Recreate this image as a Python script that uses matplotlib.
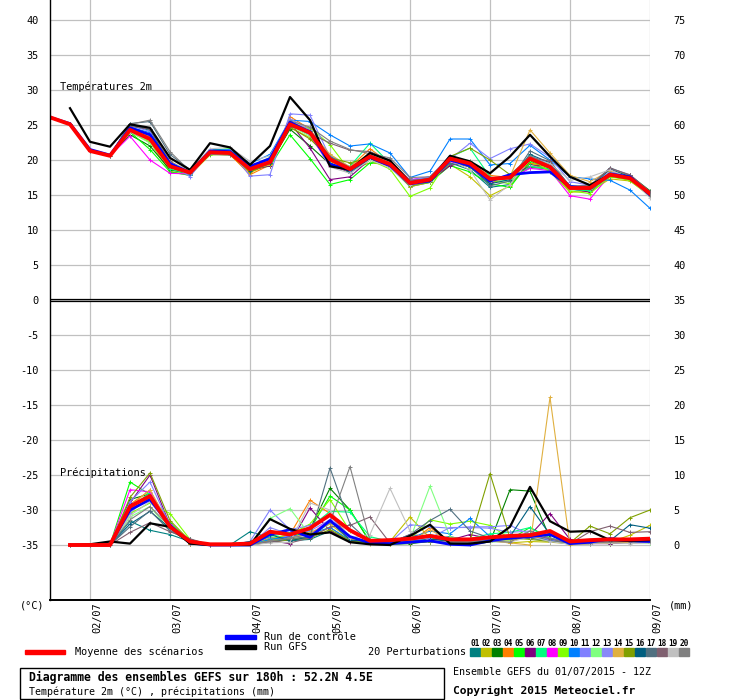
import numpy as np
import matplotlib
matplotlib.use("Agg")
import matplotlib.pyplot as plt
from matplotlib.patches import Rectangle

nan = np.nan
plt.rcParams['font.family'] = ['DejaVu Sans Mono']

# 6-hourly steps from 01/07 12Z to 09/07 00Z (31 steps)
steps = np.arange(31)
day_steps = [2, 6, 10, 14, 18, 22, 26, 30]
day_labels = ['02/07', '03/07', '04/07', '05/07', '06/07', '07/07', '08/07', '09/07']

member_colors = ['#008080', '#c0c000', '#008000', '#ff8000', '#00ff00', '#800080', '#00ff80',
                 '#ff00ff', '#80ff00', '#0080ff', '#8080ff', '#80ff80', '#8888f8', '#e0b040',
                 '#80a000', '#005f80', '#507080', '#806070', '#c0c0c0', '#808080']
member_names = ['%02d' % (k + 1) for k in range(20)]

# temperature 2m (degC)
t_mean = [26.1, 25.1, 21.3, 20.6, 24.3, 23.0, 19.1, 18.2, 21.1, 21.0, 18.7, 19.7, 25.1, 23.9, 20.1, 18.7,
          20.5, 19.4, 16.7, 17.2, 20.2, 19.5, 17.3, 17.5, 20.2, 19.0, 16.0, 16.0, 17.9, 17.4, 15.2]
t_gfs = [nan, 27.4, 22.6, 21.9, 25.1, 24.6, 20.3, 18.6, 22.4, 21.8, 19.3, 22.0, 29.0, 25.7, 19.1, 18.6,
         21.0, 19.9, 16.8, 17.1, 20.6, 19.8, 18.1, 20.5, 23.6, 20.5, 17.6, 16.4, 17.9, 17.5, 15.1]
t_ctrl = [26.1, 25.2, 21.5, 20.7, 24.6, 23.6, 19.5, 18.2, 21.3, 21.2, 19.1, 20.2, 25.4, 24.0, 19.4, 18.6,
          20.4, 19.2, 16.6, 17.0, 20.0, 19.2, 17.0, 17.9, 18.2, 18.3, 16.2, 15.9, 18.0, 17.6, 15.0]
t01 = [26.1, 25.1, 21.3, 20.6, 25.1, 24.2, 19.0, 18.0, 21.0, 21.1, 18.8, 19.4, 25.0, 23.6, 19.6, 18.2, 20.1, 19.0, 16.2, 16.8, 19.6, 18.6, 16.1, 16.5, 19.5, 18.6, 15.8, 15.7, 17.6, 17.3, 15.1]
t02 = [26.1, 25.1, 21.3, 20.6, 24.0, 22.5, 18.4, 17.8, 20.8, 20.7, 18.2, 19.4, 24.6, 23.2, 19.8, 18.6, 19.6, 19.3, 16.2, 16.8, 19.4, 17.6, 14.9, 16.3, 19.6, 18.4, 15.4, 15.5, 17.3, 17.0, 14.9]
t03 = [26.1, 25.1, 21.3, 20.6, 23.6, 22.0, 18.6, 18.0, 21.1, 21.2, 18.9, 19.6, 24.4, 22.0, 19.4, 18.2, 20.4, 19.6, 16.9, 17.2, 20.0, 19.2, 17.0, 17.4, 18.9, 18.8, 16.1, 16.2, 18.2, 17.8, 15.6]
t04 = [26.1, 25.1, 21.3, 20.6, 24.4, 23.3, 19.0, 17.9, 20.9, 20.8, 17.9, 19.3, 26.2, 24.4, 20.5, 19.0, 21.6, 19.5, 16.6, 17.6, 19.8, 19.5, 17.8, 17.5, 19.6, 18.9, 15.9, 15.8, 17.8, 17.7, 15.3]
t05 = [26.1, 25.1, 21.3, 20.6, 24.0, 21.5, 18.3, 17.8, 21.4, 21.6, 18.8, 19.1, 23.6, 20.2, 16.5, 17.2, 19.6, 19.6, 16.5, 16.8, 19.2, 18.3, 16.6, 16.1, 19.8, 18.9, 16.3, 16.1, 17.7, 17.3, 15.1]
t06 = [26.1, 25.1, 21.3, 20.6, 24.2, 22.8, 18.9, 18.2, 21.1, 21.1, 18.5, 19.2, 25.3, 21.7, 17.2, 17.6, 20.1, 19.0, 16.8, 17.0, 19.2, 19.8, 16.6, 17.8, 19.1, 19.3, 15.9, 15.4, 18.2, 17.8, 15.0]
t07 = [26.1, 25.1, 21.3, 20.6, 24.1, 23.5, 18.7, 18.0, 21.2, 21.0, 18.6, 19.8, 25.5, 23.9, 19.9, 19.1, 22.4, 19.5, 16.8, 17.6, 20.4, 21.7, 17.6, 16.9, 19.1, 18.7, 15.8, 15.6, 17.7, 17.2, 15.0]
t08 = [26.1, 25.1, 21.3, 20.6, 23.4, 20.0, 18.1, 18.0, 21.0, 21.0, 18.6, 19.7, 25.5, 23.6, 19.1, 18.4, 20.2, 19.5, 17.2, 17.6, 19.8, 19.0, 17.1, 17.4, 18.8, 18.5, 14.9, 14.4, 17.9, 17.6, 15.2]
t09 = [26.1, 25.1, 21.3, 20.6, 24.5, 22.6, 19.4, 18.0, 20.7, 20.9, 18.4, 19.6, 24.8, 24.6, 22.2, 18.4, 20.0, 18.7, 14.8, 16.0, 20.4, 18.9, 17.1, 16.6, 20.2, 18.3, 15.6, 15.2, 17.6, 17.1, 14.8]
t10 = [26.1, 25.1, 21.3, 20.6, 24.7, 23.9, 19.7, 17.9, 21.4, 21.5, 19.5, 20.8, 25.7, 25.5, 23.6, 22.0, 22.3, 21.0, 17.5, 18.4, 23.0, 23.0, 19.3, 19.5, 22.1, 20.0, 17.6, 17.3, 17.1, 15.7, 13.1]
t11 = [26.1, 25.1, 21.3, 20.6, 24.9, 24.1, 19.6, 17.6, 21.3, 21.4, 17.7, 17.9, 26.6, 26.4, 20.4, 18.3, 20.8, 19.7, 17.1, 17.6, 20.1, 22.4, 20.2, 21.6, 22.3, 20.4, 16.9, 16.4, 18.3, 17.8, 15.1]
t12 = [26.1, 25.1, 21.3, 20.6, 24.1, 22.4, 19.2, 18.5, 21.3, 21.3, 19.0, 20.4, 24.9, 23.4, 20.8, 18.9, 20.6, 19.3, 16.4, 16.9, 20.2, 19.9, 17.2, 16.9, 20.8, 18.9, 15.9, 15.8, 17.9, 17.5, 15.2]
t13 = [26.1, 25.1, 21.3, 20.6, 24.6, 23.3, 19.3, 18.2, 21.0, 21.1, 19.2, 20.0, 25.9, 24.3, 20.6, 19.0, 20.8, 19.8, 17.0, 17.6, 20.6, 19.5, 17.4, 17.6, 20.6, 19.4, 16.3, 16.4, 18.2, 17.6, 15.2]
t14 = [26.1, 25.1, 21.3, 20.6, 24.5, 23.4, 19.8, 18.3, 21.2, 20.9, 18.6, 19.3, 25.6, 24.2, 20.8, 19.0, 21.0, 19.6, 16.8, 17.3, 20.1, 19.0, 17.2, 17.6, 24.3, 21.0, 17.8, 16.9, 18.5, 17.8, 15.2]
t15 = [26.1, 25.1, 21.3, 20.6, 24.0, 22.9, 19.5, 18.4, 21.0, 20.9, 18.3, 19.5, 24.7, 23.0, 20.3, 19.6, 20.3, 19.6, 16.3, 16.9, 20.5, 21.7, 20.0, 17.9, 20.4, 19.2, 16.1, 16.0, 17.8, 17.3, 15.0]
t16 = [26.1, 25.1, 21.3, 20.6, 25.0, 24.4, 19.4, 18.1, 20.9, 21.0, 18.5, 19.6, 24.8, 24.2, 20.2, 18.2, 20.2, 19.2, 16.4, 17.1, 19.9, 19.0, 16.6, 17.2, 20.8, 19.6, 16.3, 16.1, 18.7, 17.6, 15.3]
t17 = [26.1, 25.1, 21.3, 20.6, 25.2, 25.5, 20.8, 18.6, 21.2, 21.1, 18.9, 19.9, 25.4, 24.0, 20.5, 18.9, 20.7, 19.5, 17.0, 17.4, 19.5, 19.1, 16.3, 17.0, 21.3, 19.9, 16.1, 16.2, 18.9, 17.8, 15.4]
t18 = [26.1, 25.1, 21.3, 20.6, 24.8, 24.4, 19.8, 18.2, 21.0, 21.1, 18.9, 19.8, 24.9, 23.8, 22.4, 21.4, 21.2, 20.0, 17.1, 17.3, 20.3, 19.3, 17.2, 17.7, 20.4, 19.8, 16.2, 16.4, 18.8, 17.9, 15.5]
t19 = [26.1, 25.1, 21.3, 20.6, 24.0, 22.8, 19.6, 18.6, 21.6, 21.8, 19.8, 20.6, 25.5, 23.9, 19.0, 18.1, 20.0, 18.9, 16.4, 17.0, 20.0, 18.6, 14.3, 16.5, 20.2, 19.5, 17.1, 17.6, 18.6, 17.4, 14.6]
t20 = [26.1, 25.1, 21.3, 20.6, 25.1, 25.7, 21.2, 18.4, 20.8, 20.7, 19.1, 20.3, 25.6, 24.7, 22.7, 21.5, 20.9, 20.3, 17.5, 17.6, 20.4, 19.7, 17.4, 17.8, 20.6, 19.2, 16.2, 16.3, 18.2, 17.5, 15.0]
t_members = [t01, t02, t03, t04, t05, t06, t07, t08, t09, t10, t11, t12, t13, t14, t15, t16, t17, t18, t19, t20]

# precipitation (mm per 6h)
p_mean = [nan, 0, 0, 0, 5.5, 7.0, 2.6, 0.5, 0.1, 0.1, 0.2, 1.9, 1.5, 2.4, 4.3, 2.1,
          0.6, 0.7, 0.9, 1.3, 0.8, 0.8, 1.1, 1.3, 1.4, 2.0, 0.5, 0.7, 0.8, 0.8, 0.9]
p_gfs = [nan, 0, 0.1, 0.5, 0.2, 3.1, 2.6, 0.2, 0, 0, 0, 3.7, 2.3, 1.5, 1.8, 0.4,
         0.1, 0.0, 1.3, 2.9, 0.2, 0.2, 0.5, 2.6, 8.3, 3.4, 1.9, 2.0, 0.7, 0.6, 0.7]
p_ctrl = [nan, 0, 0, 0, 5.0, 6.5, 2.8, 0.3, 0, 0, 0, 1.5, 2.2, 1.1, 3.5, 1.2,
          0.3, 0.2, 0.4, 0.6, 0.1, 0, 0.6, 1.0, 1.2, 1.5, 0.2, 0.4, 0.9, 0.6, 0.5]
p01 = [nan, 0, 0, 0, 3.4, 2.1, 1.5, 0.5, 0, 0, 1.9, 1.0, 0.6, 0.8, 2.0, 0.8, 0.3, 0.2, 0.5, 0.8, 1.2, 0.6, 1.0, 0.8, 1.0, 0.9, 0.1, 0.3, 0.4, 0.6, 0.7]
p02 = [nan, 0, 0, 0, 4.8, 6.8, 3.0, 0.3, 0, 0, 0, 0.4, 0.8, 1.2, 2.5, 0.6, 0.2, 0.5, 4.0, 1.0, 0.5, 0.4, 0.6, 0.3, 0.5, 0.4, 0.2, 0.6, 0.4, 1.4, 2.8]
p03 = [nan, 0, 0, 0, 6.5, 7.3, 2.4, 0.2, 0, 0, 0, 0.5, 1.2, 2.3, 8.1, 5.0, 0.4, 0.1, 0.2, 0.5, 0.3, 0.2, 0.4, 7.9, 7.7, 1.0, 0.1, 0.2, 0.3, 0.4, 0.5]
p04 = [nan, 0, 0, 0, 5.8, 7.8, 2.5, 0.2, 0, 0, 0, 0.8, 1.5, 6.4, 4.5, 1.0, 0.4, 0.2, 0.3, 2.5, 0.6, 0.4, 0.5, 0.6, 1.2, 0.9, 0.1, 0.2, 0.3, 0.5, 0.6]
p05 = [nan, 0, 0, 0, 9.0, 7.2, 3.2, 0.4, 0, 0, 0, 0.7, 1.0, 2.2, 7.0, 5.0, 0.5, 0.2, 0.6, 1.0, 0.4, 0.5, 0.7, 0.8, 2.5, 1.0, 0.2, 0.3, 0.2, 0.4, 0.3]
p06 = [nan, 0, 0, 0, 6.0, 10.0, 2.8, 0.3, 0, 0, 0, 0.6, 0.2, 5.3, 2.0, 0.5, 0.6, 0.3, 1.5, 0.8, 0.7, 1.5, 0.9, 1.2, 1.4, 4.5, 0.8, 0.2, 0.2, 0.3, 0.4]
p07 = [nan, 0, 0, 0, 5.2, 7.5, 2.2, 0.5, 0, 0, 0, 1.2, 1.8, 2.5, 4.8, 4.7, 1.2, 0.5, 0.6, 1.5, 0.8, 0.9, 1.6, 1.8, 2.5, 0.8, 0.2, 0.4, 0.5, 0.4, 0.5]
p08 = [nan, 0, 0, 0, 7.9, 7.6, 3.0, 0.4, 0, 0, 0, 1.0, 1.2, 1.5, 3.6, 1.0, 0.3, 0.2, 0.5, 1.2, 0.6, 0.5, 0.8, 1.2, 1.6, 1.5, 0.2, 0.3, 0.3, 0.5, 0.4]
p09 = [nan, 0, 0, 0, 4.5, 6.0, 4.5, 0.8, 0, 0, 0, 0.9, 1.5, 3.0, 6.5, 2.0, 0.5, 0.2, 0.8, 3.6, 3.0, 3.4, 2.8, 0.9, 1.0, 0.6, 0.2, 0.5, 0.3, 0.6, 0.5]
p10 = [nan, 0, 0, 0, 5.0, 6.6, 2.6, 0.3, 0, 0, 0, 0.8, 1.2, 1.6, 2.5, 0.7, 0.3, 0.3, 1.0, 2.0, 1.6, 3.8, 1.2, 0.9, 1.0, 0.7, 0.1, 0.2, 0.9, 0.6, 0.5]
p11 = [nan, 0, 0, 0, 6.2, 9.0, 2.8, 0.5, 0, 0, 0.5, 5.0, 2.2, 2.8, 4.2, 0.9, 0.5, 0.4, 2.9, 2.6, 2.4, 2.6, 2.6, 2.8, 1.5, 0.8, 0.2, 0.3, 0.4, 0.5, 0.6]
p12 = [nan, 0, 0, 0, 4.0, 5.5, 2.1, 0.4, 0, 0, 0, 3.8, 5.2, 1.4, 3.0, 0.8, 0.6, 0.5, 0.8, 8.4, 1.2, 0.5, 0.4, 0.6, 2.0, 1.0, 0.2, 0.3, 0.3, 0.4, 0.5]
p13 = [nan, 0, 0, 0, 4.6, 7.0, 2.3, 0.3, 0, 0, 0, 2.5, 1.5, 2.0, 3.6, 0.9, 0.4, 0.3, 0.6, 1.0, 2.5, 2.5, 2.4, 1.8, 2.0, 0.6, 0.2, 0.3, 0.4, 0.5, 0.7]
p14 = [nan, 0, 0, 0, 5.5, 7.9, 2.7, 0.4, 0, 0, 0, 0.6, 1.0, 1.8, 3.0, 0.8, 0.5, 0.2, 0.4, 2.2, 0.5, 0.4, 0.6, 0.3, 0.0, 21.1, 0.0, 0.2, 0.3, 0.4, 0.6]
p15 = [nan, 0, 0, 0, 6.8, 10.3, 3.5, 0.6, 0, 0, 0, 0.5, 0.7, 1.0, 2.2, 0.6, 0.4, 0.5, 0.3, 0.5, 0.2, 0.6, 10.2, 1.0, 0.8, 0.5, 0.3, 2.7, 1.6, 3.9, 5.0]
p16 = [nan, 0, 0, 0, 3.0, 4.8, 2.4, 0.8, 0, 0, 0.5, 1.5, 0.6, 1.2, 3.4, 0.7, 0.5, 0.3, 0.5, 0.8, 0.6, 0.4, 0.7, 1.2, 5.5, 1.5, 0.3, 0.5, 0.6, 2.9, 2.4]
p17 = [nan, 0, 0, 0, 2.6, 4.9, 2.0, 0.6, 0, 0, 0, 0.4, 0.9, 1.2, 11.0, 3.0, 0.4, 0.3, 1.5, 3.5, 5.1, 2.0, 1.0, 0.8, 1.0, 0.6, 0.1, 0.3, 1.0, 0.8, 0.6]
p18 = [nan, 0, 0, 0, 1.8, 3.2, 1.9, 0.9, 0, 0, 0, 0.5, 0.3, 1.0, 2.6, 2.8, 4.0, 0.3, 0.5, 0.6, 0.4, 0.5, 0.8, 1.0, 1.5, 0.9, 0.2, 1.9, 2.7, 1.8, 1.9]
p19 = [nan, 0, 0, 0, 4.2, 6.2, 2.6, 0.4, 0, 0, 0, 0.3, 0.4, 6.0, 5.0, 1.0, 1.5, 8.1, 2.0, 0.6, 0.4, 0.3, 0.5, 0.4, 1.2, 0.5, 0.1, 0.2, 0.3, 0.2, 0.3]
p20 = [nan, 0, 0, 0, 3.6, 5.5, 2.6, 0.5, 0, 0, 0, 0.6, 1.0, 1.5, 3.2, 11.2, 0.6, 0.4, 0.5, 0.6, 0.4, 0.5, 0.6, 0.4, 2.0, 1.0, 0.2, 0.3, 0.4, 0.5, 0.6]
p_members = [p01, p02, p03, p04, p05, p06, p07, p08, p09, p10, p11, p12, p13, p14, p15, p16, p17, p18, p19, p20]

# precipitation drawn on the same axis, shifted so 0 mm sits at -35
P_OFF = -35

fig = plt.figure(figsize=(7.4, 7.0), dpi=100)
ax = fig.add_axes([50 / 740, 100 / 700, 600 / 740, 600 / 700])
ax.set_xlim(0, 30)
ax.set_ylim(-300 / 7, 300 / 7)

yt = list(range(-35, 41, 5))
ax.set_yticks(yt)
ax.set_yticklabels([str(v) for v in yt], fontsize=7.4)
ax.set_xticks(day_steps)
ax.set_xticklabels([])
ax.grid(True, color='#c0c0c0', lw=0.9)
ax.tick_params(length=0, pad=8)
for s in ['top', 'right']:
    ax.spines[s].set_visible(False)
ax.spines['left'].set_linewidth(1.0)
ax.spines['bottom'].set_linewidth(1.4)

ax2 = ax.twinx()
ax2.set_ylim(ax.get_ylim())
ax2.set_yticks(yt)
ax2.set_yticklabels([str(v - P_OFF) for v in yt], fontsize=7.4)
ax2.tick_params(length=0, pad=17)
for s in ax2.spines.values():
    s.set_visible(False)

# separation between the two panels
ax.axhline(0.15, color='black', lw=0.9)
ax.axhline(-0.15, color='black', lw=0.9)

for k in range(20):
    ax.plot(steps, t_members[k], color=member_colors[k], lw=0.8, marker='+', ms=2.5, mew=0.7)
    ax.plot(steps, np.array(p_members[k]) + P_OFF, color=member_colors[k], lw=0.8,
            marker='+', ms=2.5, mew=0.7)

ax.plot(steps, t_ctrl, color='#0000ff', lw=2.0)
ax.plot(steps, np.array(p_ctrl) + P_OFF, color='#0000ff', lw=2.0)
ax.plot(steps, t_gfs, color='black', lw=1.6)
ax.plot(steps, np.array(p_gfs) + P_OFF, color='black', lw=1.6)
ax.plot(steps, t_mean, color='#ff0000', lw=2.8)
ax.plot(steps, np.array(p_mean) + P_OFF, color='#ff0000', lw=2.8)

ax.text(0.017, 0.855, 'Températures 2m', transform=ax.transAxes, fontsize=7.4, va='center')
ax.text(0.017, 0.2115, 'Précipitations', transform=ax.transAxes, fontsize=7.4, va='center')

xtr = ax.get_xaxis_transform()
for d, lab in zip(day_steps, day_labels):
    ax.text(d + 0.35, -0.004, lab, transform=xtr, rotation=90, ha='center', va='top', fontsize=7.4)

# legend and captions, in pixel coordinates of the figure
lg = fig.add_axes([0, 0, 1, 1])
lg.set_xlim(0, 740)
lg.set_ylim(700, 0)
lg.axis('off')

lg.text(20, 606, '(°C)', fontsize=7.4, va='center')
lg.text(669, 606, '(mm)', fontsize=7.4, va='center')

lg.add_patch(Rectangle((25, 650), 40, 4, color='#ff0000'))
lg.text(75, 652, 'Moyenne des scénarios', fontsize=7.4, va='center')
lg.add_patch(Rectangle((225, 635), 31, 4, color='#0000ff'))
lg.text(264, 637, 'Run de contrôle', fontsize=7.4, va='center')
lg.add_patch(Rectangle((225, 645), 31, 4, color='black'))
lg.text(264, 647, 'Run GFS', fontsize=7.4, va='center')
lg.text(466, 652, '20 Perturbations', fontsize=7.4, va='center', ha='right')
for k in range(20):
    lg.add_patch(Rectangle((470 + 11 * k, 648), 10, 8, color=member_colors[k]))
    lg.text(475 + 11 * k, 643, member_names[k], fontsize=5.6, ha='center', va='center',
            fontweight='bold')

lg.add_patch(Rectangle((20, 668), 424, 31, fill=False, edgecolor='black', lw=1.0))
lg.text(29, 677.5, 'Diagramme des ensembles GEFS sur 180h : 52.2N 4.5E', fontsize=8.3,
        fontweight='bold', va='center')
lg.text(29, 692, 'Température 2m (°C) , précipitations (mm)', fontsize=7.2, va='center')
lg.text(453, 672, 'Ensemble GEFS du 01/07/2015 - 12Z', fontsize=7.2, va='center')
lg.text(453, 691, 'Copyright 2015 Meteociel.fr', fontsize=8.1, fontweight='bold', va='center')

fig.savefig('out.png', dpi=100)
